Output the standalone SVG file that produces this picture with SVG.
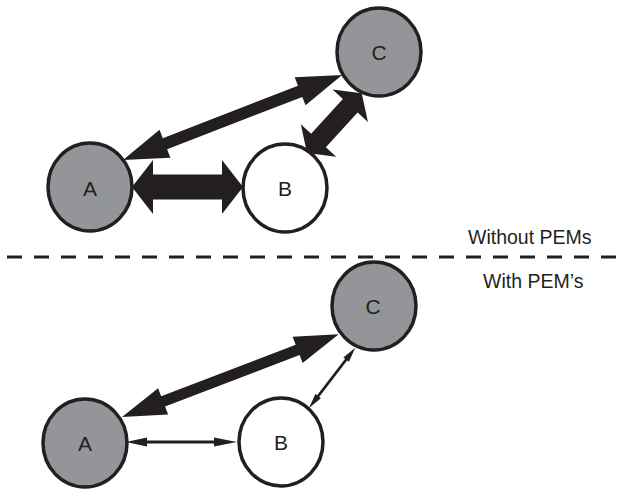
<svg xmlns="http://www.w3.org/2000/svg" width="625" height="490" viewBox="0 0 625 490">
  <style>
    .node { stroke: #231f20; stroke-width: 3.5; }
    .dark { fill: #939598; }
    .light { fill: #ffffff; }
    .label { font-family: "Liberation Sans", Arial, sans-serif; font-size: 21px; fill: #231f20; text-anchor: middle; }
    .caption { font-family: "Liberation Sans", Arial, sans-serif; font-size: 19.5px; fill: #231f20; }
    .arrow { fill: #231f20; stroke: none; }
    .divider { stroke: #231f20; stroke-width: 3; stroke-dasharray: 15 12; fill: none; }
  </style>

  <!-- upper panel: without PEMs -->
  <g id="top-C"><ellipse class="node dark" cx="379" cy="52" rx="42" ry="44"/><text class="label" x="379" y="60">C</text></g>
  <g id="top-A"><ellipse class="node dark" cx="90" cy="187" rx="42" ry="44"/><text class="label" x="90" y="196">A</text></g>
  <g id="top-B"><ellipse class="node light" cx="285" cy="188" rx="42" ry="44"/><text class="label" x="285" y="196">B</text></g>

  <!-- lower panel: with PEM's -->
  <g id="bottom-C"><ellipse class="node dark" cx="374" cy="306" rx="42" ry="44"/><text class="label" x="373" y="314">C</text></g>
  <g id="bottom-A"><ellipse class="node dark" cx="85" cy="443" rx="42" ry="44"/><text class="label" x="85" y="451">A</text></g>
  <g id="bottom-B"><ellipse class="node light" cx="281" cy="442" rx="42" ry="44"/><text class="label" x="281" y="450">B</text></g>

  <!-- double-headed connectors, each drawn along +x then placed -->
  <g id="connectors">
    <path class="arrow" transform="translate(132,187)" d="M0,0 L21,-27 L21,-12.5 L90,-12.5 L90,-27 L111,0 L90,27 L90,12.5 L21,12.5 L21,27 Z"/>
    <path class="arrow" transform="translate(123,160) rotate(-21.2)" d="M0,0 L45,-15 L45,-6 L190,-6 L190,-15 L235,0 L190,15 L190,6 L45,6 L45,15 Z"/>
    <path class="arrow" transform="translate(307,153) rotate(-47.5)" d="M0,0 L17,-24 L17,-10 L64,-10 L64,-24 L81,0 L64,24 L64,10 L17,10 L17,24 Z"/>

    <path class="arrow" transform="translate(122,417) rotate(-20.9)" d="M0,0 L44,-14 L44,-5.5 L188,-5.5 L188,-14 L232,0 L188,14 L188,5.5 L44,5.5 L44,14 Z"/>
    <path class="arrow" transform="translate(126,442)" d="M0,0 L21,-4.5 L21,-1.5 L88,-1.5 L88,-4.5 L111,0 L88,4.5 L88,1.5 L21,1.5 L21,4.5 Z"/>
    <path class="arrow" transform="translate(309,408) rotate(-52.5)" d="M0,0 L15,-3.5 L15,-1.3 L61,-1.3 L61,-3.5 L76,0 L61,3.5 L61,1.3 L15,1.3 L15,3.5 Z"/>
  </g>

  <line class="divider" x1="7" y1="257" x2="625" y2="257"/>
  <text class="caption" x="468" y="244">Without PEMs</text>
  <text class="caption" x="483" y="288">With PEM’s</text>
</svg>
